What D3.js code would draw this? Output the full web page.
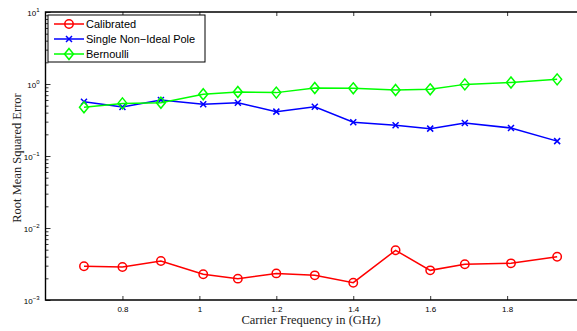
<!DOCTYPE html>
<html>
<head>
<meta charset="utf-8">
<script src="https://cdn.jsdelivr.net/npm/d3@7"></script>
<style>
  body { margin: 0; background: #fff; }
  svg { display: block; }
  .tick text { font-family: "Liberation Sans", Arial, sans-serif; font-size: 8px; fill: #000; }
  .label { font-family: "Liberation Serif", "Times New Roman", serif; font-size: 12.5px; fill: #222; }
  .legend text { font-family: "Liberation Sans", Arial, sans-serif; font-size: 11px; fill: #000; }
</style>
</head>
<body>
<svg id="chart" width="577" height="331"></svg>
<script>
// data
const freq = [0.7, 0.8, 0.9, 1.01, 1.1, 1.2, 1.3, 1.4, 1.51, 1.6, 1.69, 1.81, 1.93]
const calibrated = [0.00294, 0.00287, 0.00348, 0.00228, 0.00198, 0.00234, 0.0022, 0.00174, 0.0049, 0.00258, 0.00313, 0.00323, 0.00399]
const nonIdealPole = [0.568, 0.48, 0.6, 0.523, 0.55, 0.413, 0.484, 0.294, 0.267, 0.24, 0.287, 0.245, 0.161]
const bernoulli = [0.474, 0.538, 0.55, 0.72, 0.774, 0.759, 0.88, 0.871, 0.826, 0.843, 0.988, 1.05, 1.16]

const xTicks = [0.8, 1, 1.2, 1.4, 1.6, 1.8]
const yExponents = [-3, -2, -1, 0, 1]

const series = [
  { name: 'Calibrated', values: calibrated, color: '#ff0000', marker: 'circle' },
  { name: 'Single Non\u2212Ideal Pole', values: nonIdealPole, color: '#0000ff', marker: 'cross' },
  { name: 'Bernoulli', values: bernoulli, color: '#00ff00', marker: 'diamond' }
]

const margin = {top: 12, left: 45.5, bottom: 31}
const svg = d3.select('#chart')
const height = 331 - margin.top - margin.bottom

// plot runs past the right edge of the picture (xlim 0.6 .. 2.0)
const x = d3.scaleLinear().domain([0.6, 2.0]).range([margin.left, margin.left + 1.4 * 384.7])
const y = d3.scaleLog().domain([1e-3, 10]).range([margin.top + height, margin.top])

// axes
const minors = []
for (let e = -3; e < 1; e++) {
  for (let m = 2; m < 10; m++) minors.push(m * Math.pow(10, e))
}

const g = svg.append('g')

g.append('g')
  .attr('transform', 'translate(0,' + (margin.top + height) + ')')
  .call(d3.axisBottom(x).tickValues(xTicks).tickSize(-4).tickPadding(6)
    .tickFormat(d => d3.format('~g')(d)))
g.append('g')
  .attr('transform', 'translate(0,' + margin.top + ')')
  .call(d3.axisTop(x).tickValues(xTicks).tickSize(-4).tickFormat(''))

g.append('g')
  .attr('transform', 'translate(' + margin.left + ',0)')
  .call(d3.axisLeft(y).tickValues(minors).tickSize(-3).tickFormat(''))
const yAxis = g.append('g')
  .attr('transform', 'translate(' + margin.left + ',0)')
  .call(d3.axisLeft(y).tickValues(yExponents.map(e => Math.pow(10, e))).tickSize(-5).tickFormat(''))

yAxis.selectAll('.tick').each(function (d) {
  const t = d3.select(this).append('text')
    .attr('x', -6)
    .attr('dy', '0.4em')
    .attr('text-anchor', 'end')
  t.append('tspan').text('10')
  t.append('tspan').attr('dy', '-0.6em').attr('font-size', '6px').text(Math.round(Math.log10(d)).toString().replace('-', '\u2212'))
})

g.selectAll('.domain').remove()
g.selectAll('.tick line').attr('stroke', '#000').attr('stroke-width', 0.8)

// frame
svg.append('path')
  .attr('d', 'M580,' + margin.top + 'H' + margin.left + 'V' + (margin.top + height) + 'H580')
  .attr('fill', 'none')
  .attr('stroke', '#000')
  .attr('stroke-width', 1.4)

// lines and markers
const line = d3.line()
  .x((d, i) => x(freq[i]))
  .y(d => y(d))

function drawMarker (sel, type, color) {
  if (type === 'circle') {
    sel.append('circle').attr('r', 4.2)
      .attr('fill', 'none').attr('stroke', color).attr('stroke-width', 1.5)
  } else if (type === 'diamond') {
    sel.append('path').attr('d', 'M0,-5.5L4.5,0L0,5.5L-4.5,0Z')
      .attr('fill', 'none').attr('stroke', color).attr('stroke-width', 1.5)
  } else {
    sel.append('path').attr('d', 'M-3,-3L3,3M-3,3L3,-3')
      .attr('fill', 'none').attr('stroke', color).attr('stroke-width', 1.5)
  }
}

series.forEach(s => {
  svg.append('path')
    .datum(s.values)
    .attr('d', line)
    .attr('fill', 'none')
    .attr('stroke', s.color)
    .attr('stroke-width', 1.5)
  s.values.forEach((v, i) => {
    const m = svg.append('g').attr('transform', 'translate(' + x(freq[i]) + ',' + y(v) + ')')
    drawMarker(m, s.marker, s.color)
  })
})

// legend
const legend = svg.append('g').attr('class', 'legend')
legend.append('rect')
  .attr('x', 48).attr('y', 15).attr('width', 157).attr('height', 47)
  .attr('fill', '#fff').attr('stroke', '#000').attr('stroke-width', 1)
series.forEach((s, i) => {
  const ly = 24 + i * 15
  legend.append('line')
    .attr('x1', 54).attr('x2', 84).attr('y1', ly).attr('y2', ly)
    .attr('stroke', s.color).attr('stroke-width', 1.5)
  drawMarker(legend.append('g').attr('transform', 'translate(69,' + ly + ')'), s.marker, s.color)
  legend.append('text').attr('x', 86).attr('y', ly).attr('dy', '0.36em').text(s.name)
})

// axis labels
svg.append('text').attr('class', 'label')
  .attr('x', 311).attr('y', 324)
  .attr('text-anchor', 'middle')
  .text('Carrier Frequency in (GHz)')
svg.append('text').attr('class', 'label')
  .attr('transform', 'translate(21,158) rotate(-90)')
  .attr('text-anchor', 'middle')
  .text('Root Mean Squared Error')
</script>
</body>
</html>
